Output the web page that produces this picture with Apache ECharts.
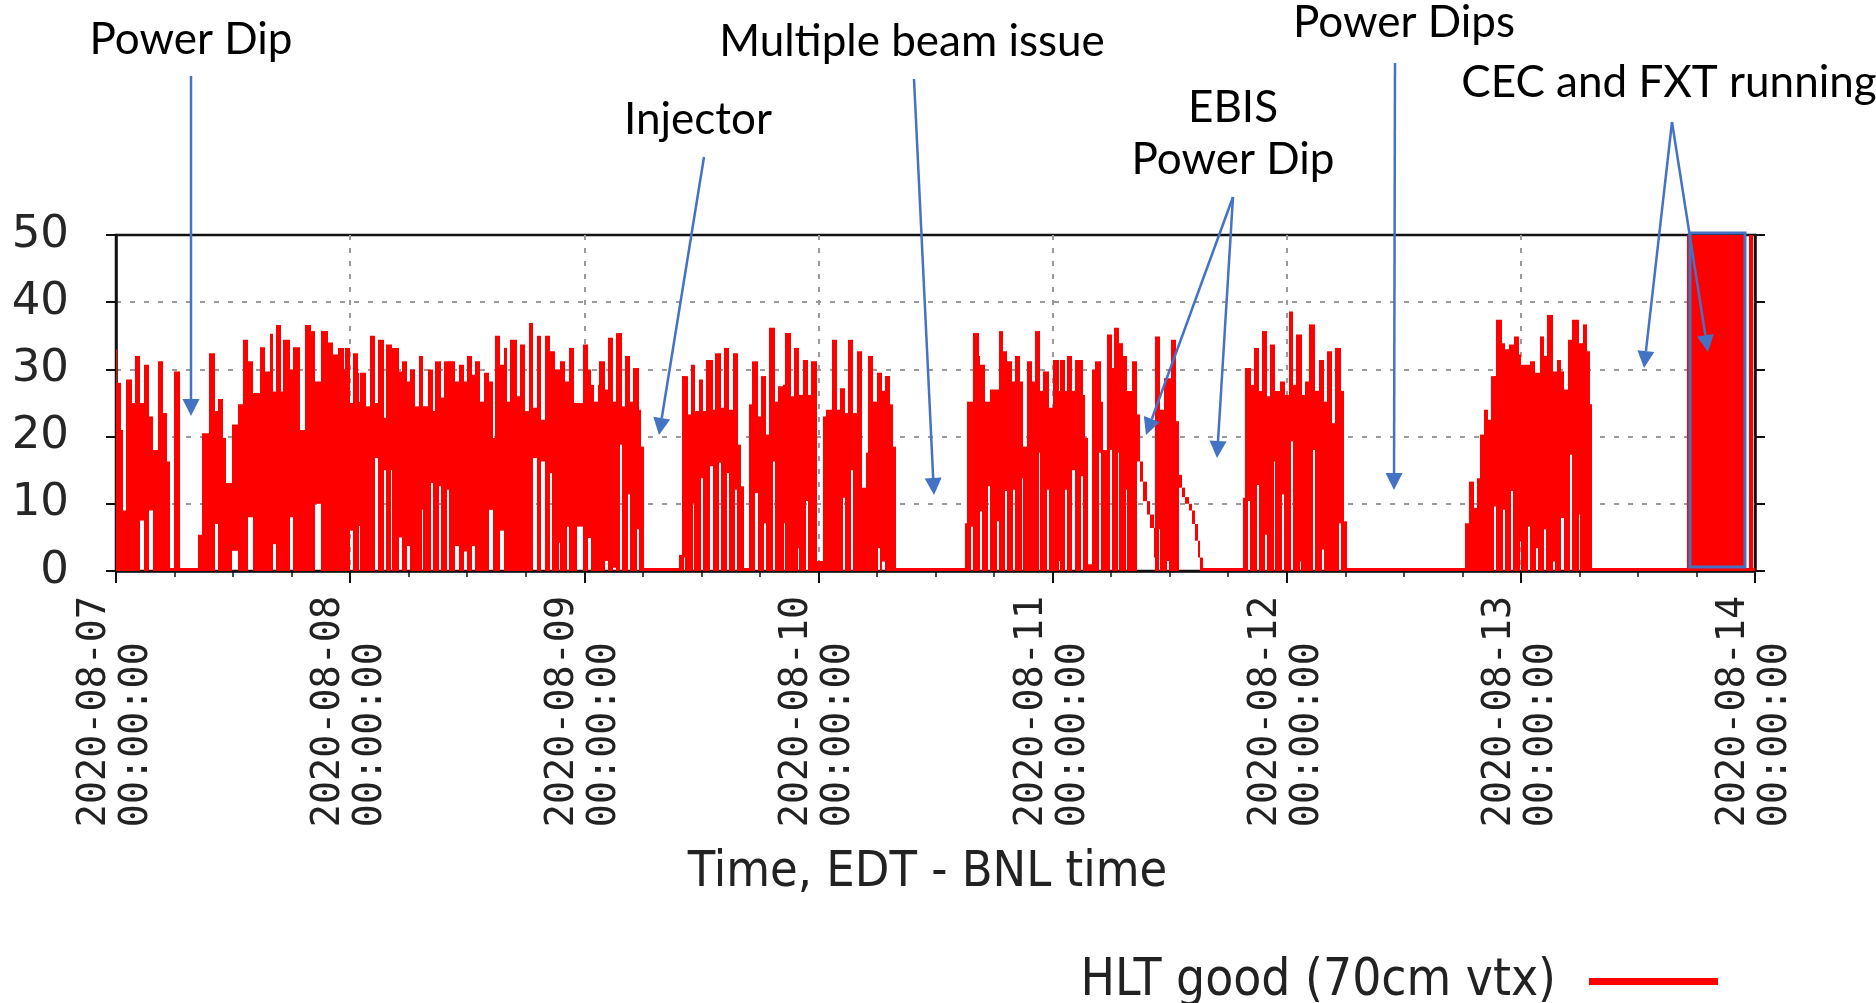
<!DOCTYPE html>
<html>
<head>
<meta charset="utf-8">
<title>HLT good (70cm vtx)</title>
<script src="https://cdn.jsdelivr.net/npm/echarts@6.0.0/dist/echarts.min.js"></script>
<style>
  html, body { margin: 0; padding: 0; background: #fff; }
  #chart { width: 1876px; height: 1003px; }
</style>
</head>
<body>
<div id="chart"></div>
<script>
// hours since 2020-08-07 00:00 EDT -> [start hour, high, low]
// each piece holds until the next one starts (min/max of the rate in that time slice)
const blockA = [[0.0,33,0],[0.15,28,0],[0.5,21,0],[0.72,9,0],[1.05,28.5,0],[1.64,25,0],[1.95,32,0],[2.45,25,7.5],[2.87,30.7,0],[3.4,23,9],[3.8,18,0],[4.3,31.2,0],[4.82,23.5,0],[5.26,16.3,0],[5.5,0,0],[5.9,29.7,0],[6.53,0,0]];
const blockB = [[8.4,5.4,0],[8.8,20.5,0],[9.55,32.4,0],[10.1,23.8,7],[10.45,25.6,0],[10.95,19.8,0],[11.3,13.1,0],[11.9,21.8,3],[12.5,24.8,0],[13.0,34.4,0],[13.55,31.2,8],[14.05,26.5,0],[14.75,33.3,0],[15.25,29.7,0],[15.75,35.3,0],[16.1,26.7,4],[16.45,36.6,0],[16.95,26.7,0],[17.15,34.4,0],[17.8,30,8],[18.15,33.3,0],[18.85,21,0],[19.35,36.6,0],[19.95,35.7,0],[20.4,28.2,10],[21.05,35.7,0],[21.75,34,0],[22.25,32.2,0],[22.75,33.2,0],[23.35,30,0],
  [23.51,33.2,0],[24.02,25,6],[24.3,32.4,0],[24.81,29.5,0],[24.9,25.2,6.7],[25.05,29.5,0],[25.63,24.5,0],[26.07,35,0],[26.59,25,16.8],[26.86,34.4,0],[27.44,22.8,15],[27.72,33.7,0],[28.19,33.7,15],[28.31,33.2,0],[28.98,29.7,5],[29.32,31.2,0],[29.83,28.2,3.7],[30.18,30,0],[30.69,24.5,0],[31.03,32,0],[31.37,32,9.1],[31.5,24.5,0],[31.99,30,0],[32.33,30,13.1],[32.46,23.8,0],[32.74,31.2,0],[33.15,31.2,12.6],[33.32,25.8,0],[33.59,31.2,0],[33.97,31.2,12.1],[34.1,31.2,0],[34.79,28.2,3.7],[35.13,30.7,0],[35.64,28.2,2.9],[35.98,32,0],[36.5,29.2,3.7],[36.84,31.2,0],[37.35,25.2,0],[37.69,29.5,0],[38.2,28.2,9.1],[38.61,19.8,0],[38.89,35,0],[39.4,30.7,6],[39.74,33.2,0],[40.08,25.2,0],[40.43,34.4,0],[41.11,26,0],[41.45,33.7,0],[41.96,23.8,0],[42.31,36.9,0],[42.72,24.3,16.8],[43.16,35,0],[43.6,22.5,16.3],[44.01,35,0],[44.53,32.7,14.6],[44.65,32.7,0],[45.04,30,0],[45.38,30,4.2],[45.55,31.2,0],[45.99,28.2,0],[46.23,28.2,6.6],[46.4,33.2,0],[46.92,25,0],[47.26,25,6.6],[47.84,33.7,0],
  [48.42,30,4.9],[48.7,27.7,0],[49.04,25.2,0],[49.38,27.7,0],[49.55,31.2,0],[50.17,27,1.5],[50.41,34.7,0],[50.99,25.2,0.5],[51.26,35.4,0],[51.7,35.4,18.8],[51.84,24.5,0],[52.18,32,0],[52.52,32,11.4],[52.7,25.2,0],[53.04,30.2,0],[53.41,30.2,6.2],[53.58,24,0],[53.82,18.5,0],[54.16,0,0]];
const blockC = [[57.75,2.4,0],[58.03,29,0],[58.2,29,2],[58.37,29,0],[58.68,23.3,0],[58.95,30.7,0],[59.12,30.7,10.1],[59.29,30.7,0],[59.36,23.8,0],[59.73,28.5,0],[60.01,28.5,13.8],[60.18,23.8,0],[60.49,31.4,0],[60.93,31.4,15.6],[61.17,24,0],[61.44,32.4,0],[61.78,32.4,16.1],[62.02,24.3,0],[62.37,33.2,0],[62.64,33.2,14.6],[62.88,24,0],[63.22,32.4,0],[63.49,32.4,12.1],[63.66,32.4,0],[63.8,18.8,0],[64.07,12.6,0],[64.42,0,0],[64.93,24.8,0],[65.2,31.2,0],[65.54,31.2,11.6],[65.78,23,0],[66.12,29,0],[66.47,29,7.1],[66.64,20.3,0],[66.98,36.2,0],[67.32,36.2,16.3],[67.56,25.2,0],[67.9,27.5,0],[68.35,27.7,0],[68.52,27.7,7.1],[68.62,35.4,0],[69.2,26,0],[69.54,33.2,0],[69.88,33.2,3.4],[70.05,26.2,0],[70.4,31.4,0],[70.74,31.4,10.4],[70.91,26.2,0],[71.25,31.2,0],[71.83,1.5,0],
  [72.45,23,0],[72.79,24,0],[73.37,34.4,0],[73.88,24,0],[74.23,27.2,0],[74.5,27.2,10.9],[74.74,23.5,0],[75.08,34.4,0],[75.35,34.4,15],[75.59,23.5,0],[75.93,32.7,0],[76.51,12.4,0],[76.86,17.6,0],[77.13,32,0],[77.64,25.2,0],[77.98,29.5,0],[78.15,29.5,3.4],[78.33,29.5,0],[78.5,26.8,1.4],[78.84,29,0],[79.35,24.8,0],[79.69,18.5,0],[79.97,0,0]];
const blockD = [[87.04,7.1,0],[87.28,25.2,0],[87.65,25.2,6.6],[87.83,35.4,0],[88.41,32,0],[88.58,30.7,8.9],[88.75,30.7,0],[89.09,25.2,0],[89.43,25.2,12.6],[89.6,27,0],[90.28,27,7.4],[90.46,35.7,0],[90.97,32.7,0],[91.1,32.7,11.9],[91.31,31.2,0],[91.82,28.2,0],[91.99,28.2,12.1],[92.17,32,0],[92.68,28.2,0],[92.85,28.2,13.8],[93.02,18.5,0],[93.36,31.2,0],[93.87,28.2,0],[94.22,35.7,0],[94.59,35.7,17.6],[94.73,26.8,0],[95.07,29.7,0],[95.45,29.7,12.1],[95.68,24.3,0],
  [96.03,31.4,0],[96.61,26.8,1.5],[96.78,31.4,0],[97.29,26.8,12.1],[97.46,32,0],[97.98,26.8,15],[98.32,31.4,0],[98.9,31.4,14.1],[99.1,26.2,0],[99.34,19.8,0],[99.68,1,0],[100.03,30,0],[100.37,31.2,0],[100.81,31.2,17.6],[100.98,25.2,0],[101.22,18,0],[101.56,35.2,0],[101.84,35.2,18],[102.08,30.2,0],[102.32,36.2,0],[102.69,36.2,17.6],[102.86,33.9,0],[103.27,32,0],[103.55,32,12.1],[103.68,26.8,0],[104.13,31.2,0],[104.64,23.3,16.3],[104.98,16.3,13.3],[105.32,13.3,10.4],[105.66,10.4,8.4],[106.01,8.4,6.4],[106.35,6.4,2],[106.52,34.9,0],[106.86,34.9,6.2],[107.03,24,0],[107.44,28.7,0],[107.72,28.7,1.5],[107.89,28.7,0],[108.12,34.4,0],[108.67,22.3,0],[108.91,14.3,12.4],[109.25,12.4,11],[109.59,11,10],[109.94,10,9],[110.28,9,7],[110.62,7,4.5],[110.89,4.5,2],[111.13,2,0],[111.37,0,0]];
const blockE = [[115.51,10.9,0],[115.75,30.2,0],[116.05,30.2,10.4],[116.19,30.2,0],[116.26,27.7,0],[116.6,33.2,0],[116.94,33.2,12.8],[117.11,26.8,0],[117.46,35.7,0],[117.8,35.7,5.4],[117.97,26,0],[118.31,33.7,0],[118.65,33.7,16.3],[118.82,26.8,0],[119.34,28.2,0],[119.54,28.2,11.4],[119.71,28.2,0],[119.85,26.2,0],[120.19,38.6,0],[120.46,38.6,19.3],[120.6,27.7,0],[120.98,35.2,0],[121.32,35.2,1.4],[121.49,35.2,0],[121.56,26.2,0],[121.9,28.2,0],[122.31,36.7,0],[122.68,36.7,18],[122.85,26.8,0],[123.26,31.4,0],[123.64,31.4,3.2],[123.78,25.2,0],[124.12,32.7,0],[124.63,22,0],[124.97,33.2,0],[125.35,33.2,7.1],[125.55,26.8,0],[125.9,7.4,0],[126.17,0,0]];
const blockF = [[138.3,7.1,0],[138.64,13.3,0],[139.15,9.4,0],[139.5,13.8,0],[139.77,20.3,0],[140.25,24,0],[140.59,22.5,0],[140.93,29,0],[141.27,29,9.6],[141.48,37.4,0],[142.06,33.9,0],[142.16,33.9,9.1],[142.33,33,0],[142.74,33.7,0],[143.02,33.7,11.9],[143.19,33.7,0],[143.26,34.9,0],[143.77,32.2,0],[143.87,32.2,4.4],[144.04,30.7,0],[144.72,30.7,6.6],[144.89,31.2,0],[145.48,29.5,0],[145.58,29.5,3.4],[145.75,29.5,0],[145.92,34.9,0],[146.4,32,6.2],[146.57,32,0],[146.67,38.1,0],[147.29,29.7,1.4],[147.46,29.7,0],[147.7,31.4,0],[148.14,29.7,7.9],[148.38,27,0],[148.79,34.4,0],[149.06,34.4,17.3],[149.24,37.4,0],[149.92,33.9,8.4],[150.09,33.9,0],[150.36,36.7,0],[150.77,32.7,0],[151.05,24.8,0],[151.29,0,0]];
// CEC and FXT running: off scale
const blockG = [[161.0,50,0],[167.05,0,0],[167.4,50,0],[167.8,0,0]];

const endHour = 168;
const dayLabels = ['2020-08-07','2020-08-08','2020-08-09','2020-08-10','2020-08-11','2020-08-12','2020-08-13','2020-08-14'];
const timeLabel = '00:00:00';
const seriesName = 'HLT good (70cm vtx)';

// slide annotations (pixel positions on the page)
const notes = [
  { text: 'Power Dip', x: 191, y: 54 },
  { text: 'Multiple beam issue', x: 912, y: 56 },
  { text: 'Injector', x: 698, y: 134 },
  { text: 'Power Dips', x: 1404, y: 37 },
  { text: 'EBIS', x: 1233, y: 122 },
  { text: 'Power Dip', x: 1233, y: 174 },
  { text: 'CEC and FXT running', x: 1669, y: 97 }
];
const arrows = [
  [191, 76, 191, 416],
  [914, 79, 934, 495],
  [704, 157, 659, 435],
  [1395, 63, 1394, 490],
  [1233, 197, 1146, 435],
  [1233, 197, 1217, 458],
  [1672, 122, 1644, 368],
  [1672, 122, 1708, 352]
];
const boxRect = { x: 1690, y: 233, width: 55, height: 334 };

const pieces = [].concat(blockA, blockB, blockC, blockD, blockE, blockF, blockG);
const segData = pieces.map(function (p, i) {
  const next = i + 1 < pieces.length ? pieces[i + 1][0] : endHour;
  return [p[0], next, p[1], p[2]];
});

const blue = '#4472C4';
const noteFont = '44px Lato, "Open Sans", sans-serif';
const condensed = "'DejaVu Sans Condensed', 'DejaVu Sans'";
const graphics = [];
notes.forEach(function (n) {
  graphics.push({
    type: 'text', z: 100, x: n.x, y: n.y - 14,
    style: { text: n.text, font: noteFont, fill: '#000', textAlign: 'center', textVerticalAlign: 'middle' }
  });
});
arrows.forEach(function (a) {
  const dx = a[2] - a[0], dy = a[3] - a[1];
  const len = Math.sqrt(dx * dx + dy * dy);
  const ux = dx / len, uy = dy / len;
  const bx = a[2] - ux * 17, by = a[3] - uy * 17;
  graphics.push({
    type: 'line', z: 100,
    shape: { x1: a[0], y1: a[1], x2: bx, y2: by },
    style: { stroke: blue, lineWidth: 2.5 }
  });
  graphics.push({
    type: 'polygon', z: 100,
    shape: { points: [[a[2], a[3]], [bx - uy * 8.5, by + ux * 8.5], [bx + uy * 8.5, by - ux * 8.5]] },
    style: { fill: blue }
  });
});
graphics.push({
  type: 'rect', z: 100, shape: boxRect,
  style: { fill: 'none', stroke: blue, lineWidth: 3 }
});

const chart = echarts.init(document.getElementById('chart'));
chart.setOption({
  animation: false,
  backgroundColor: '#fff',
  grid: { left: 116, right: 121, top: 235, bottom: 432, show: true, borderColor: '#111', borderWidth: 2.5 },
  legend: {
    right: 153, top: 951, align: 'right', selectedMode: false,
    itemWidth: 129, itemHeight: 7, icon: 'rect',
    textStyle: { fontSize: 51, fontFamily: condensed, color: '#222', padding: [0, 28, 0, 0] },
    data: [{ name: seriesName, itemStyle: { color: '#ff0000' } }]
  },
  xAxis: {
    type: 'value', min: 0, max: endHour, interval: 24,
    name: 'Time, EDT - BNL time', nameLocation: 'middle', nameGap: 277,
    nameTextStyle: { fontSize: 50, fontFamily: condensed, color: '#222', padding: [0, 16, 0, 0] },
    axisLine: { show: true, lineStyle: { color: '#111', width: 2.5 } },
    axisTick: { show: true, length: 12, lineStyle: { color: '#111', width: 2 } },
    minorTick: { show: true, splitNumber: 4, length: 6, lineStyle: { color: '#111', width: 1.5 } },
    splitLine: { show: true, showMinLine: false, showMaxLine: false, lineStyle: { color: '#9a9a9a', width: 2, type: [5, 8] } },
    axisLabel: {
      rotate: 90, margin: 25, fontSize: 38.4, lineHeight: 42,
      fontFamily: "'DejaVu Sans Mono', monospace", color: '#222',
      formatter: function (v) {
        return dayLabels[Math.round(v / 24)] + '\n' + timeLabel + '  ';
      }
    }
  },
  yAxis: [{
    type: 'value', min: 0, max: 50, interval: 10,
    axisLine: { show: true, lineStyle: { color: '#111', width: 2.5 } },
    axisTick: { show: true, length: 10, lineStyle: { color: '#111', width: 2 } },
    splitLine: { show: true, showMinLine: false, showMaxLine: false, lineStyle: { color: '#9a9a9a', width: 2, type: [5, 9] } },
    axisLabel: { margin: 47, fontSize: 45, fontFamily: "'DejaVu Sans'", color: '#262626' }
  }, {
    type: 'value', min: 0, max: 50, interval: 10, position: 'right',
    axisLine: { show: true, lineStyle: { color: '#111', width: 2.5 } },
    axisTick: { show: true, length: 10, lineStyle: { color: '#111', width: 2 } },
    splitLine: { show: false },
    axisLabel: { show: false }
  }],
  series: [{
    type: 'custom',
    name: seriesName,
    data: segData,
    encode: { x: [0, 1], y: [2, 3] },
    clip: true,
    itemStyle: { color: '#ff0000' },
    renderItem: function (params, api) {
      const top = api.coord([api.value(0), api.value(2)]);
      const bot = api.coord([api.value(1), api.value(3)]);
      const x0 = Math.round(top[0]);
      let x1 = Math.round(bot[0]);
      if (x1 - x0 < 1) x1 = x0 + 1;
      let y0 = top[1];
      const y1 = bot[1];
      if (y1 - y0 < 3) y0 = y1 - 3;
      return {
        type: 'rect',
        shape: { x: x0, y: y0, width: x1 - x0, height: y1 - y0 },
        style: { fill: '#ff0000' }
      };
    }
  }],
  graphic: graphics
});
window.addEventListener('resize', function () { chart.resize(); });
</script>
</body>
</html>
